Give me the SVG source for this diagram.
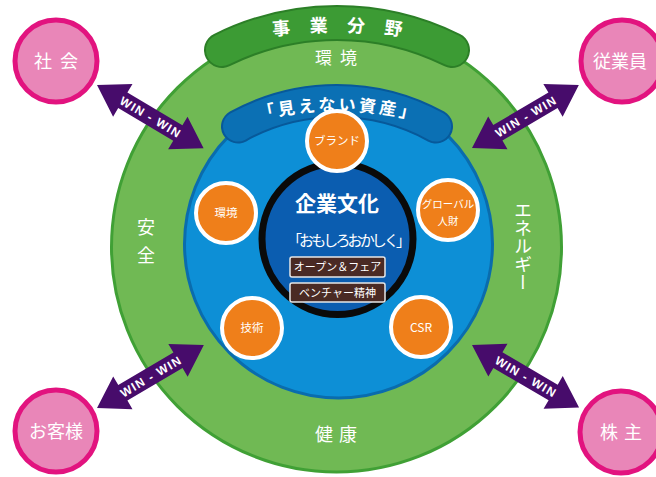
<svg xmlns="http://www.w3.org/2000/svg" width="656" height="477" viewBox="0 0 656 477">
<defs>
<style>
.jp{font-family:"Noto Sans CJK JP","Noto Sans",sans-serif;fill:#fff;text-anchor:middle}
.orange{fill:#ef7f1a;stroke:#fff;stroke-width:4}
.pink{fill:#e986b8;stroke:#e2137f;stroke-width:5}
.arrow{fill:#470c6b}
.win{font-family:"Liberation Sans",Arial,sans-serif;font-weight:bold;font-size:12px;fill:#fff;text-anchor:middle}
.box{fill:#4a2a24;stroke:#e6e6e6;stroke-width:1.5}
</style>
<path id="arcTop" d="M 217 46.5 A 500 500 0 0 1 457 46.5"/>
<path id="arcBlue" d="M 207 136 A 350 350 0 0 1 467 136"/>
<polygon id="arr" points="0,0 30,-19 30,-9 94,-9 94,-19 124,0 94,19 94,9 30,9 30,19"/>
</defs>

<g id="green-ring">
<circle cx="336.5" cy="247" r="225" fill="#70b954" stroke="#40a035" stroke-width="3"/>
<text class="jp" x="340" y="64" font-size="17" letter-spacing="8">環境</text>
<text class="jp" x="146" y="246" font-size="18" letter-spacing="10" style="writing-mode:vertical-rl">安全</text>
<text class="jp" x="523" y="246" font-size="18" style="writing-mode:vertical-rl">エネルギー</text>
<text class="jp" x="339" y="441" font-size="18" letter-spacing="6">健康</text>
</g>

<g id="business-banner">
<path d="M 222 50 A 258 258 0 0 1 452 50" fill="none" stroke="#2c7f27" stroke-width="36" stroke-linecap="round"/>
<path d="M 222 50 A 258 258 0 0 1 452 50" fill="none" stroke="#3c9b34" stroke-width="32" stroke-linecap="round"/>
<text class="jp" font-size="18" font-weight="bold" letter-spacing="19"><textPath href="#arcTop" startOffset="54%">事業分野</textPath></text>
</g>

<g id="blue-ring">
<circle cx="338.5" cy="244" r="154" fill="#0d8fd6" stroke="#0a6cad" stroke-width="3"/>
</g>

<g id="asset-banner">
<path d="M 238 126.5 A 205 205 0 0 1 436 126.5" fill="none" stroke="#07599a" stroke-width="34" stroke-linecap="round"/>
<path d="M 238 126.5 A 205 205 0 0 1 436 126.5" fill="none" stroke="#0b70b4" stroke-width="30" stroke-linecap="round"/>
<text class="jp" font-size="17" font-weight="bold" letter-spacing="3"><textPath href="#arcBlue" startOffset="50.6%">「見えない資産」</textPath></text>
</g>

<g id="culture">
<circle cx="337.5" cy="239" r="75.5" fill="#0b5db0" stroke="#0a0a0a" stroke-width="7"/>
<text class="jp" x="337" y="211" font-size="21" font-weight="bold">企業文化</text>
<text class="jp" x="349" y="246" font-size="15" textLength="124" lengthAdjust="spacing">「おもしろおかしく」</text>
<rect class="box" x="290" y="257" width="95" height="20" rx="2"/>
<text class="jp" x="337.5" y="271" font-size="11">オープン＆フェア</text>
<rect class="box" x="290" y="283" width="95" height="19" rx="2"/>
<text class="jp" x="337.5" y="296.5" font-size="11">ベンチャー精神</text>
</g>

<g id="brand">
<circle class="orange" cx="337" cy="141" r="30"/>
<text class="jp" x="337" y="145" font-size="11.5">ブランド</text>
</g>
<g id="env">
<circle class="orange" cx="226" cy="213" r="30"/>
<text class="jp" x="226" y="217" font-size="11.5">環境</text>
</g>
<g id="global">
<circle class="orange" cx="448" cy="210" r="30"/>
<text class="jp" x="448" y="208" font-size="10.5">グローバル</text>
<text class="jp" x="448" y="225" font-size="10.5">人財</text>
</g>
<g id="tech">
<circle class="orange" cx="252" cy="328" r="30"/>
<text class="jp" x="252" y="332" font-size="11.5">技術</text>
</g>
<g id="csr">
<circle class="orange" cx="421" cy="327" r="30"/>
<text class="jp" x="421" y="332" font-size="12">CSR</text>
</g>

<g id="connectors">
<g transform="translate(97,85) rotate(30.7)">
<use href="#arr" class="arrow"/>
<text class="win" x="62" y="4.5" textLength="68" lengthAdjust="spacing">WIN - WIN</text>
</g>
<g transform="translate(472,148) rotate(-30.5)">
<use href="#arr" class="arrow"/>
<text class="win" x="62" y="4.5" textLength="68" lengthAdjust="spacing">WIN - WIN</text>
</g>
<g transform="translate(97,408) rotate(-30.5)">
<use href="#arr" class="arrow"/>
<text class="win" x="62" y="4.5" textLength="68" lengthAdjust="spacing">WIN - WIN</text>
</g>
<g transform="translate(472,345) rotate(30.3)">
<use href="#arr" class="arrow"/>
<text class="win" x="62" y="4.5" textLength="68" lengthAdjust="spacing">WIN - WIN</text>
</g>
</g>

<g id="society">
<circle class="pink" cx="56" cy="61" r="41"/>
<text class="jp" x="60" y="68" font-size="18" letter-spacing="8">社会</text>
</g>
<g id="employees">
<circle class="pink" cx="622" cy="61" r="41"/>
<text class="jp" x="620" y="68" font-size="18">従業員</text>
</g>
<g id="customers">
<circle class="pink" cx="56" cy="431" r="41"/>
<text class="jp" x="56" y="438" font-size="18">お客様</text>
</g>
<g id="shareholders">
<circle class="pink" cx="621" cy="432" r="41"/>
<text class="jp" x="624" y="439" font-size="18" letter-spacing="6">株主</text>
</g>
</svg>
